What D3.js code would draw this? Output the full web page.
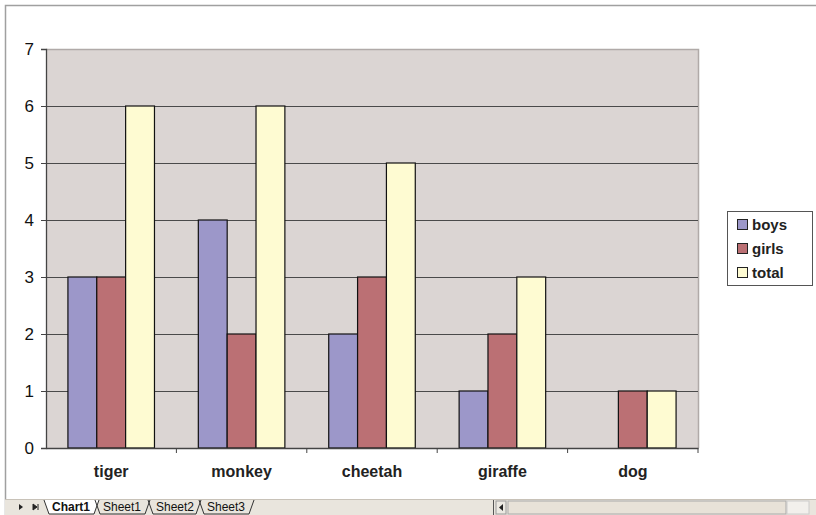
<!DOCTYPE html>
<html>
<head>
<meta charset="utf-8">
<script src="https://cdn.jsdelivr.net/npm/d3@7"></script>
<style>
  body { margin: 0; background: #fff; }
  svg { display: block; }
</style>
</head>
<body>
<div class="vis"></div>
<script>
const categories = ["tiger", "monkey", "cheetah", "giraffe", "dog"];
const seriesNames = ["boys", "girls", "total"];
const boys = [3, 4, 2, 1, 0];
const girls = [3, 2, 3, 2, 1];
const total = [6, 6, 5, 3, 1];
const yTicks = [0, 1, 2, 3, 4, 5, 6, 7];
const sheetTabs = ["Chart1", "Sheet1", "Sheet2", "Sheet3"];

const colors = { boys: "#9c97c9", girls: "#bb7074", total: "#fefbd2" };
const series = { boys, girls, total };

const W = 816, H = 515;
const plot = { left: 46, right: 698, top: 49, bottom: 448 };

const svg = d3.select(".vis").append("svg")
    .attr("width", W)
    .attr("height", H)
    .style("font-family", "Arial, 'Liberation Sans', sans-serif");

// outer sheet frame
svg.append("rect").attr("x", 5.5).attr("y", 5.5).attr("width", W).attr("height", H)
    .attr("fill", "#fff").attr("stroke", "#a0a0a0").attr("stroke-width", 1.5);

const x = d3.scaleBand().domain(categories).range([plot.left, plot.right]);
const xInner = d3.scaleBand().domain(seriesNames)
    .range([0, x.bandwidth()]).paddingOuter(0.76).paddingInner(0);
const y = d3.scaleLinear().domain([0, 7]).range([plot.bottom, plot.top]);

// plot area background
svg.append("rect")
    .attr("x", plot.left).attr("y", plot.top)
    .attr("width", plot.right - plot.left).attr("height", plot.bottom - plot.top)
    .attr("fill", "#dbd5d3");

// top + right border (light)
svg.append("path")
    .attr("d", `M${plot.left},${plot.top + 0.5}H${plot.right + 0.5}V${plot.bottom}`)
    .attr("fill", "none").attr("stroke", "#b0aaa8").attr("stroke-width", 1.5);

// gridlines
svg.append("g").selectAll("line")
    .data(yTicks.filter(d => d > 0 && d < 7))
    .join("line")
    .attr("x1", plot.left).attr("x2", plot.right)
    .attr("y1", d => Math.round(y(d)) + 0.5).attr("y2", d => Math.round(y(d)) + 0.5)
    .attr("stroke", "#4a4a4a").attr("stroke-width", 1.2);

// bars
const groups = svg.append("g").selectAll("g")
    .data(categories)
    .join("g")
    .attr("transform", d => `translate(${x(d)},0)`);

groups.selectAll("rect")
    .data((c, i) => seriesNames.map(s => ({ s, v: series[s][i] })).filter(d => d.v > 0))
    .join("rect")
    .attr("x", d => xInner(d.s))
    .attr("y", d => y(d.v))
    .attr("width", xInner.bandwidth())
    .attr("height", d => plot.bottom - y(d.v))
    .attr("fill", d => colors[d.s])
    .attr("stroke", "#111")
    .attr("stroke-width", 1.2);

// y axis
const yAxis = svg.append("g")
    .attr("transform", `translate(${plot.left},0)`)
    .call(d3.axisLeft(y).tickValues(yTicks).tickSize(5).tickPadding(7).tickFormat(d3.format("d")));
yAxis.select(".domain").attr("stroke", "#444").attr("stroke-width", 1.3);
yAxis.selectAll(".tick line").attr("stroke", "#444");
yAxis.selectAll(".tick text").attr("font-size", 17).attr("fill", "#111")
    .attr("font-family", "Arial, 'Liberation Sans', sans-serif");

// x axis
const xAxis = svg.append("g")
    .attr("transform", `translate(0,${plot.bottom})`)
    .call(d3.axisBottom(x).tickSize(0).tickPadding(18));
xAxis.select(".domain").attr("stroke", "#444").attr("stroke-width", 1.3);
xAxis.selectAll(".tick text").attr("font-size", 16).attr("font-weight", "bold")
    .attr("fill", "#222").attr("font-family", "Arial, 'Liberation Sans', sans-serif");

// category boundary ticks
svg.append("g").selectAll("line")
    .data(categories.slice(1).concat(["end"]))
    .join("line")
    .attr("x1", d => d === "end" ? plot.right : x(d))
    .attr("x2", d => d === "end" ? plot.right : x(d))
    .attr("y1", plot.bottom).attr("y2", plot.bottom + 5)
    .attr("stroke", "#444");

// legend
const legend = svg.append("g").attr("transform", "translate(727,211)");
legend.append("rect").attr("x", 0.5).attr("y", 0.5).attr("width", 85).attr("height", 74)
    .attr("fill", "#fff").attr("stroke", "#555");
seriesNames.forEach((s, i) => {
    const gy = 14 + i * 24;
    legend.append("rect").attr("x", 10.5).attr("y", gy - 5.5).attr("width", 10).attr("height", 10)
        .attr("fill", colors[s]).attr("stroke", "#222");
    legend.append("text").attr("x", 25).attr("y", gy).attr("dy", "0.35em")
        .attr("font-size", 15).attr("font-weight", "bold").attr("fill", "#222").text(s);
});

// sheet tab bar
const bar = svg.append("g").attr("transform", "translate(0,499)");
bar.append("rect").attr("x", 5).attr("y", 0).attr("width", W).attr("height", 16).attr("fill", "#e9e5dd");
bar.append("line").attr("x1", 5).attr("x2", W).attr("y1", 0.5).attr("y2", 0.5).attr("stroke", "#c8c2b8");
bar.append("path").attr("d", "M19,5L23,8L19,11Z").attr("fill", "#222");
bar.append("path").attr("d", "M33,5L37,8L33,11Z M38,5V11").attr("fill", "#222").attr("stroke", "#222");
const tabX = [44, 95, 148, 199];
const tabW = [50, 50, 48, 50];
sheetTabs.forEach((t, i) => {
    const x0 = tabX[i];
    bar.append("path")
        .attr("d", `M${x0},1L${x0 + 5},15H${x0 + tabW[i]}L${x0 + tabW[i] + 5},1`)
        .attr("fill", i === 0 ? "#fff" : "none").attr("stroke", "#333");
    bar.append("text").attr("x", x0 + 8).attr("y", 12)
        .attr("font-size", 12).attr("font-weight", i === 0 ? "bold" : "normal")
        .attr("font-family", "Arial, 'Liberation Sans', sans-serif")
        .attr("fill", "#111").text(t);
});
// horizontal scrollbar
bar.append("line").attr("x1", 493.5).attr("x2", 493.5).attr("y1", 1).attr("y2", 16).attr("stroke", "#555");
bar.append("rect").attr("x", 496).attr("y", 2).attr("width", 10).attr("height", 13).attr("fill", "#ece9e2").attr("stroke", "#999");
bar.append("path").attr("d", "M503,5L499,8.5L503,12Z").attr("fill", "#222");
bar.append("rect").attr("x", 508).attr("y", 2).attr("width", 278).attr("height", 13).attr("fill", "#e8e2d8").attr("stroke", "#aaa");
bar.append("rect").attr("x", 787).attr("y", 2).attr("width", 22).attr("height", 13).attr("fill", "#f2f0ec").attr("stroke", "#ccc");
</script>
</body>
</html>
